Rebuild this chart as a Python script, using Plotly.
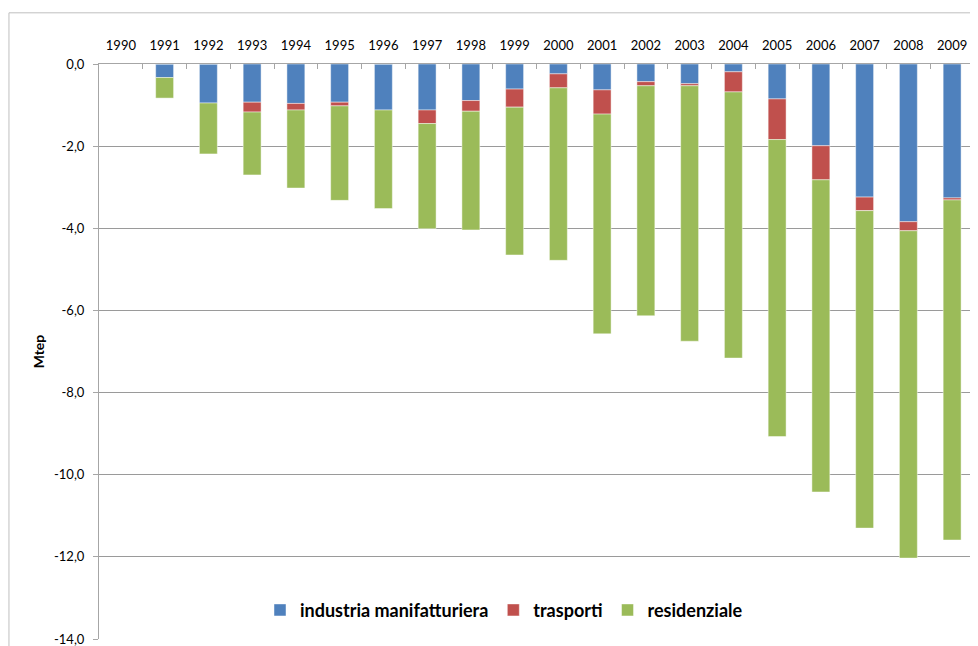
import plotly.graph_objects as go

# Years and energy savings per sector (Mtep, negative = reduction)
years = [str(y) for y in range(1990, 2010)]
industria = [0, -0.33, -0.95, -0.93, -0.96, -0.93, -1.12, -1.12, -0.89, -0.61,
             -0.24, -0.63, -0.43, -0.48, -0.19, -0.85, -1.99, -3.24, -3.84, -3.26]
trasporti = [0, 0, 0, -0.24, -0.16, -0.09, 0, -0.33, -0.26, -0.44,
             -0.34, -0.59, -0.10, -0.05, -0.49, -0.99, -0.83, -0.33, -0.22, -0.05]
residenziale = [0, -0.50, -1.24, -1.53, -1.90, -2.30, -2.40, -2.56, -2.89, -3.60,
                -4.20, -5.35, -5.60, -6.22, -6.48, -7.23, -7.60, -7.73, -7.97, -8.28]

y_ticks = [0, -2, -4, -6, -8, -10, -12, -14]
y_ticktext = ['0,0', '-2,0', '-4,0', '-6,0', '-8,0', '-10,0', '-12,0', '-14,0']

series = [
    ('industria manifatturiera', industria, '#4F81BD'),
    ('trasporti', trasporti, '#C0504D'),
    ('residenziale', residenziale, '#9BBB59'),
]

fig = go.Figure()
for name, vals, color in series:
    fig.add_trace(go.Bar(
        x=years, y=vals, name=name,
        marker=dict(color=color, line=dict(color='rgba(255,255,255,0.45)', width=1)),
    ))

font_family = 'Lato, Carlito, Calibri, sans-serif'

# page body has an 8px margin, so the figure is shifted by 8px
fig.update_layout(
    barmode='relative',
    bargap=0.59,
    width=970, height=642,
    margin=dict(l=91, r=4, t=56, b=11),
    paper_bgcolor='white', plot_bgcolor='white',
    font=dict(family=font_family, size=13, color='black'),
    showlegend=True,
    legend=dict(
        orientation='h', x=0.184, y=0.05, xanchor='left', yanchor='middle',
        font=dict(family=font_family, size=18, color='black', weight='bold'),
        bgcolor='rgba(0,0,0,0)', itemwidth=30, traceorder='normal',
    ),
    xaxis=dict(
        type='category', side='top',
        showline=True, linecolor='#a6a6a6', linewidth=1,
        ticks='inside', tickson='boundaries', ticklen=5, tickcolor='#a6a6a6',
        showgrid=False, ticklabelstandoff=8,
        tickfont=dict(size=13),
    ),
    yaxis=dict(
        range=[-14, 0], tickvals=y_ticks, ticktext=y_ticktext,
        showline=True, linecolor='#a6a6a6', linewidth=1,
        ticks='outside', ticklen=5, tickcolor='#a6a6a6',
        showgrid=True, gridcolor='#9a9a9a', gridwidth=1,
        zeroline=False, ticklabelstandoff=6,
        tickfont=dict(size=13),
        title=dict(text='<b>Mtep</b>', font=dict(size=14), standoff=6),
    ),
    shapes=[
        dict(type='line', xref='paper', yref='paper',
             x0=-0.1029, x1=1.2, y0=1.089, y1=1.089,
             line=dict(color='#bfbfbf', width=1)),
        dict(type='line', xref='paper', yref='paper',
             x0=-0.1029, x1=-0.1029, y0=-0.2, y1=1.089,
             line=dict(color='#bfbfbf', width=1)),
    ],
)

fig.write_html("out.html")
